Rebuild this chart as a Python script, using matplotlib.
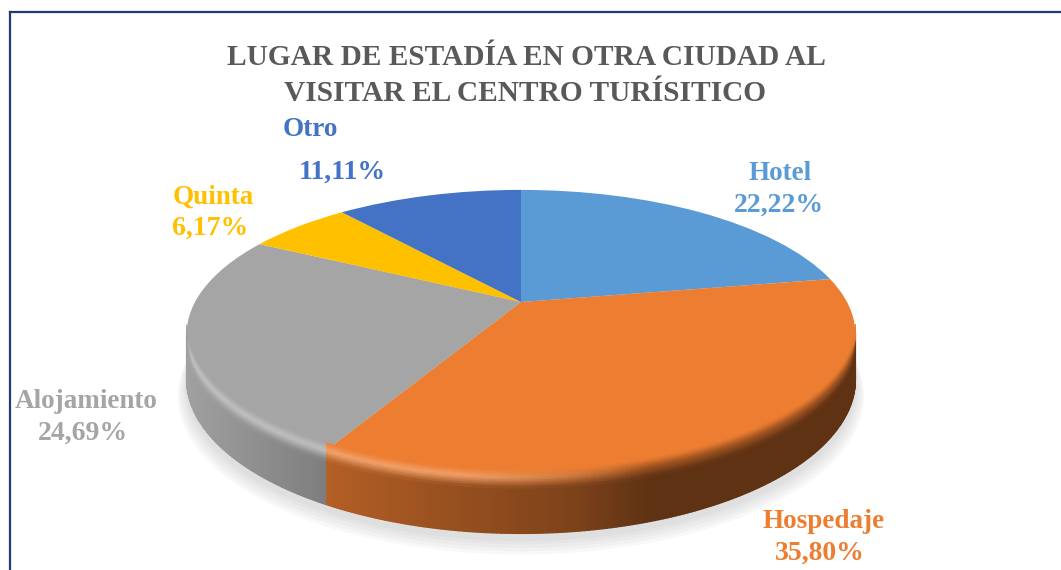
import numpy as np
import matplotlib
matplotlib.use("Agg")
import matplotlib.pyplot as plt
from matplotlib.collections import PolyCollection
from matplotlib.transforms import Transform

title_lines = ["LUGAR DE ESTADÍA EN OTRA CIUDAD AL", "VISITAR EL CENTRO TURÍSITICO"]
categories = ["Hotel", "Hospedaje", "Alojamiento", "Quinta", "Otro"]
values = [22.22, 35.80, 24.69, 6.17, 11.11]
colors = ["#5b9bd5", "#ed7d31", "#a5a5a5", "#ffc000", "#4472c4"]

# label centres in picture pixels: (name x, name y, value x, value y)
label_pos = [
    (780, 174, 779, 205),
    (824, 522, 820, 553),
    (86, 402, 83, 433),
    (213, 197, 210, 228),
    (310, 130, 342, 172),
]

# perspective of the tilted disc, in picture pixels
cx, cy = 521, 302
k = 0.222
bx, by = 326, 137
depth = 43


def project(x, y):
    w = 1 + k * y
    return cx + bx * x / w, cy - by * y / w


class Tilt(Transform):
    input_dims = 2
    output_dims = 2
    is_affine = False
    has_inverse = False

    def transform_non_affine(self, values):
        values = np.asarray(values)
        px, py = project(values[:, 0], values[:, 1])
        return np.column_stack([px, py])


def side_factor(px):
    return np.interp(px, [187, 333, 570, 650, 853], [0.97, 0.75, 0.53, 0.40, 0.40])


fig = plt.figure(figsize=(10.61, 5.70), dpi=100, facecolor="white")
ax = fig.add_axes([0, 0, 1, 1])

# soft shadow under the disc
theta_all = np.linspace(0, 2 * np.pi, 361)
for grow, off in zip([1.025, 1.02, 1.014, 1.008, 1.003], [15, 13, 11, 9, 7]):
    ux, uy = grow * np.sin(theta_all), grow * np.cos(theta_all)
    px, py = project(ux, uy)
    py = py + depth / (1 + k * uy) + off
    ax.fill(px, py, color="#808080", alpha=0.05, lw=0, zorder=1)

# side wall and rim, cut into thin strips so the shading can change along it
edges = np.cumsum([0] + values) / np.sum(values) * 2 * np.pi
wall_polys, wall_fills = [], []
rim_polys, rim_fills = [], []
layers = np.array([-8, -6, -4, -2, 0, 2, 4, 6, 8, 10])
for i in range(len(values)):
    rgb = np.array(matplotlib.colors.to_rgb(colors[i]))
    n = max(2, int((edges[i + 1] - edges[i]) * 90))
    th = np.linspace(edges[i], edges[i + 1], n + 1)
    for a, b in zip(th[:-1], th[1:]):
        um = np.cos((a + b) / 2)
        # only the part of the rim that faces the viewer
        if um > -k + 0.01:
            continue
        xa, ya = project(np.sin(a), np.cos(a))
        xb, yb = project(np.sin(b), np.cos(b))
        da = depth / (1 + k * np.cos(a))
        db = depth / (1 + k * np.cos(b))
        xm = (xa + xb) / 2
        side = np.clip(rgb * side_factor(xm), 0, 1)
        wall_polys.append([(xa, ya), (xb, yb), (xb, yb + db), (xa, ya + da)])
        wall_fills.append(side)
        fade = np.clip((-k - um) / 0.15, 0, 1)
        h = np.interp(xm, [187, 480, 640], [0.32, 0.26, 0.0])
        m = np.interp(xm, [450, 650], [0.0, 0.55])
        hl = (1 - m) * rgb + m * side
        hl = hl + (1 - hl) * h
        for s0, s1 in zip(layers[:-1], layers[1:]):
            s = (s0 + s1) / 2
            if s < 0:
                col = rgb + (hl - rgb) * (1 + s / 8)
                col = rgb + (col - rgb) * fade
            else:
                col = hl + (side - hl) * (s / 10)
                col = side + (col - side) * fade
            rim_polys.append([(xa, ya + s0), (xb, yb + s0), (xb, yb + s1), (xa, ya + s1)])
            rim_fills.append(col)

ax.add_collection(PolyCollection(wall_polys, facecolors=wall_fills, edgecolors=wall_fills,
                                 linewidths=1.0, zorder=2))

# top face
wedges, _ = ax.pie(values, colors=colors, startangle=90, counterclock=False, radius=1.0)
tilt = Tilt()
for wedge in wedges:
    wedge.set_transform(tilt + ax.transData)
    wedge.set_clip_on(False)
    wedge.set_zorder(3)
    wedge.set_linewidth(0)

ax.add_collection(PolyCollection(rim_polys, facecolors=rim_fills, edgecolors=rim_fills,
                                 linewidths=0.8, zorder=4))

ax.set_aspect("auto")
ax.set_xlim(0, 1061)
ax.set_ylim(570, 0)
ax.axis("off")

# navy frame, it runs off the right and bottom of the picture
ax.plot([10, 10], [570, 11.5], color="#1f3a76", lw=1.6, zorder=5)
ax.plot([10, 1061], [11.5, 11.5], color="#1f3a76", lw=1.6, zorder=5)

serif = "Liberation Serif"
ax.text(526, 57.5, title_lines[0], ha="center", va="center", family=serif, weight="bold",
        fontsize=21.2, color="#595959", zorder=6)
ax.text(525, 93.5, title_lines[1], ha="center", va="center", family=serif, weight="bold",
        fontsize=21.2, color="#595959", zorder=6)

for name, val, col, pos in zip(categories, values, colors, label_pos):
    ax.text(pos[0], pos[1], name, ha="center", va="center", family=serif, weight="bold",
            fontsize=19.5, color=col, zorder=6)
    ax.text(pos[2], pos[3], f"{val:.2f}%".replace(".", ","), ha="center", va="center",
            family=serif, weight="bold", fontsize=20, color=col, zorder=6)

fig.savefig("out.png", dpi=100)
